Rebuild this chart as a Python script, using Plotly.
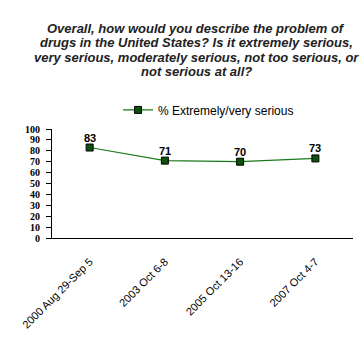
import plotly.graph_objects as go

# Survey waves and share saying drugs are an extremely/very serious problem
waves = ["2000 Aug 29-Sep 5", "2003 Oct 6-8", "2005 Oct 13-16", "2007 Oct 4-7"]
pct_serious = [83, 71, 70, 73]
series_name = "% Extremely/very serious"
y_ticks = list(range(0, 101, 10))

question_lines = [
    "Overall, how would you describe the problem of",
    "drugs in the United States? Is it extremely serious,",
    "very serious, moderately serious, not too serious, or",
    "not serious at all?",
]

fig = go.Figure()
fig.add_trace(go.Scatter(
    x=waves,
    y=pct_serious,
    mode="lines+markers",
    name=series_name,
    line=dict(color="#1a7a1a", width=1.2),
    marker=dict(symbol="square", size=7, color="#0b520b",
                line=dict(color="#000000", width=1)),
    cliponaxis=False,
))

annotations = []
# value labels sitting just above each point
for w, v in zip(waves, pct_serious):
    annotations.append(dict(
        x=w, y=v, xref="x", yref="y",
        text=str(v), showarrow=False,
        yanchor="middle", yshift=10,
        font=dict(family="Arial, Liberation Sans, sans-serif", size=11,
                  color="#000000", weight="bold"),
    ))

# question text, one annotation per line
for i, line in enumerate(question_lines):
    annotations.append(dict(
        text=line,
        xref="paper", yref="paper",
        x=0.48, xanchor="center",
        y=(238 - 28 - 14.6 * i) / 109, yanchor="middle",
        showarrow=False,
        font=dict(family="Arial, Liberation Sans, sans-serif", size=13,
                  style="italic", weight="bold", color="#222222"),
    ))

fig.update_layout(
    width=362,
    height=337,
    margin=dict(l=52, r=9, t=129, b=99, autoexpand=False),
    paper_bgcolor="white",
    plot_bgcolor="white",
    font=dict(family="Arial, Liberation Sans, sans-serif", color="#000000"),
    showlegend=True,
    legend=dict(
        orientation="h",
        x=0.52, xanchor="center",
        y=1.175, yanchor="middle",
        font=dict(size=12),
        bgcolor="rgba(0,0,0,0)",
    ),
    annotations=annotations,
    xaxis=dict(
        type="category",
        range=[-0.5, 3.5],
        automargin=False,
        showline=True, linecolor="#000000", linewidth=1,
        showgrid=False, zeroline=False,
        ticks="",
        tickangle=-45,
        ticklabelstandoff=12,
        tickfont=dict(size=11),
    ),
    yaxis=dict(
        range=[0, 100],
        tickvals=y_ticks,
        automargin=False,
        showline=True, linecolor="#000000", linewidth=1,
        showgrid=False, zeroline=False,
        ticks="outside", ticklen=5, tickcolor="#000000",
        ticklabelstandoff=4,
        tickfont=dict(family="Liberation Serif, Times New Roman, serif",
                      size=10, weight="bold"),
    ),
)

fig.write_html("out.html")
